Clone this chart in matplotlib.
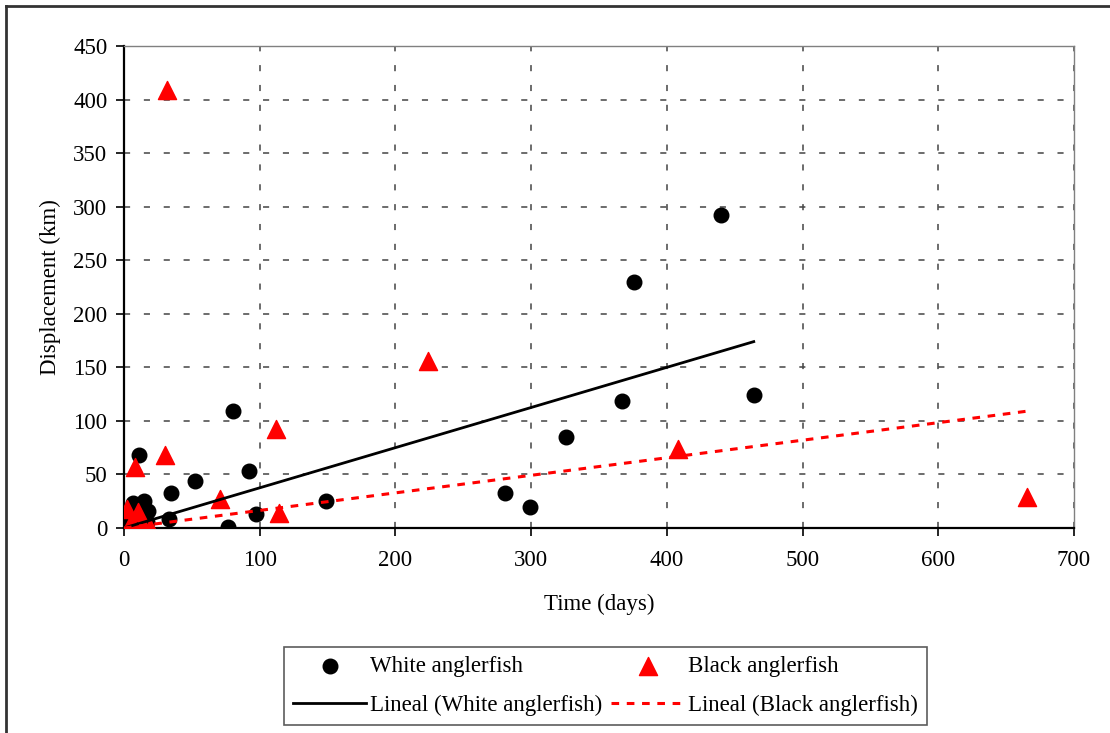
import numpy as np
import matplotlib
matplotlib.use('Agg')
from matplotlib import pyplot as plt
from matplotlib.lines import Line2D

plt.rcParams['font.family'] = ['Liberation Serif', 'DejaVu Serif']

# White anglerfish (time in days, displacement in km)
white_days = [0.5, 2, 4, 7, 8, 11, 14, 15, 18, 17, 33, 35, 52, 77, 80, 92, 97,
              149, 281, 299, 326, 367, 376, 440, 464]
white_km = [1, 3, 5, 23, 12, 68, 8, 25, 16, 6, 8, 33, 44, 1, 109, 53, 13,
            25, 33, 20, 85, 119, 230, 292, 124]

# Black anglerfish
black_days = [2, 5, 7, 8, 10, 12, 15, 19, 30, 32, 71, 112, 114, 224, 408, 665]
black_km = [18, 5, 2, 57, 15, 1, 0, 0, 68, 409, 27, 92, 14, 156, 74, 29]

# linear trendlines (start/end)
white_trend_x = [0, 464]
white_trend_y = [0, 174]
black_trend_x = [0, 665]
black_trend_y = [0, 109]

FS = 16.5

fig = plt.figure(figsize=(11.1, 7.33), dpi=100)
ax = fig.add_axes([0.1117, 0.2797, 0.8559, 0.6575])

h_w = ax.scatter(white_days, white_km, s=110, color='black', zorder=3,
                 label='White anglerfish')
h_b = ax.scatter(black_days, black_km, s=170, marker='^', color='red', zorder=3,
                 label='Black anglerfish')
l_w, = ax.plot(white_trend_x, white_trend_y, color='black', lw=2, zorder=4,
               label='Lineal (White anglerfish)')
l_b, = ax.plot(black_trend_x, black_trend_y, color='red', lw=2.2, ls=(0, (2.5, 2.5)),
               zorder=4, label='Lineal (Black anglerfish)')

ax.set_xlim(0, 700)
ax.set_ylim(0, 450)
ax.set_xticks(np.arange(0, 701, 100))
ax.set_yticks(np.arange(0, 451, 50))
ax.grid(True, color='#444444', ls=(0, (4, 9)), lw=1.1)
ax.set_axisbelow(True)
for s in ['left', 'bottom']:
    ax.spines[s].set_color('black')
    ax.spines[s].set_linewidth(1.6)
for s in ['top', 'right']:
    ax.spines[s].set_color('#808080')
    ax.spines[s].set_linewidth(1)
ax.tick_params(labelsize=FS, length=6, width=1.2, direction='out', pad=6)
ax.tick_params(axis='x', pad=10)
ax.set_xlabel('Time (days)', fontsize=FS, labelpad=16)
ax.set_ylabel('Displacement (km)', fontsize=FS, labelpad=9)

leg = fig.legend([h_w, l_w, h_b, l_b],
                 ['White anglerfish', 'Lineal (White anglerfish)',
                  'Black anglerfish', 'Lineal (Black anglerfish)'],
                 loc='center', bbox_to_anchor=(0.5455, 0.0641), ncol=2,
                 fontsize=FS, frameon=True, fancybox=False, handlelength=3.2,
                 columnspacing=0.4, handletextpad=0.15, borderpad=0.4,
                 labelspacing=0.75, borderaxespad=0)
leg.get_frame().set_edgecolor('#333333')
leg.get_frame().set_linewidth(1.2)

# outer chart border (left and top edges visible)
fig.add_artist(Line2D([6 / 1110, 6 / 1110], [0, 1 - 6 / 733], color='#333333', lw=2,
                      transform=fig.transFigure))
fig.add_artist(Line2D([6 / 1110, 1], [1 - 6 / 733, 1 - 6 / 733], color='#333333', lw=2,
                      transform=fig.transFigure))

fig.savefig('out.png', dpi=100)
